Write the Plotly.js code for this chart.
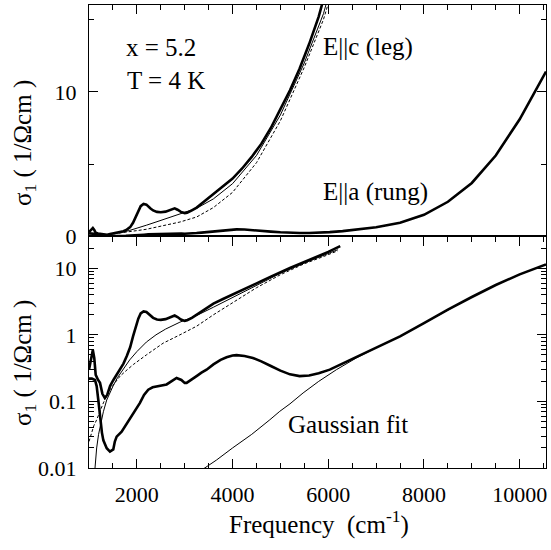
<!DOCTYPE html>
<html><head><meta charset="utf-8">
<script src="https://cdn.plot.ly/plotly-3.0.1.min.js"></script>
<style>html,body{margin:0;padding:0;background:#fff}#g{width:551px;height:550px}</style>
</head><body><div id="g"></div>
<script>
// E||c (leg) measured data
const fC = [1000,1040,1080,1110,1140,1190,1230,1280,1330,1380,1440,1510,1580,1650,1720,1790,1860,1920,1980,2030,2080,2140,2200,2280,2340,2420,2500,2600,2700,2790,2850,2920,3000,3050,3150,3250,3400,3600,3800,4000,4200,4400,4600,4800,5000,5200,5400,5600,5800,6000,6250];
const sC = [0.30,0.45,0.59,0.45,0.25,0.21,0.19,0.13,0.113,0.125,0.17,0.21,0.25,0.30,0.37,0.48,0.65,0.95,1.35,1.75,2.1,2.25,2.2,1.95,1.8,1.7,1.68,1.72,1.85,1.95,1.85,1.7,1.62,1.65,1.8,2.0,2.4,2.95,3.45,4.0,4.7,5.5,6.4,7.5,8.8,10.1,11.6,13.3,15.2,17.6,21.5];
// E||c fit (thin solid)
const fFit1 = [1100,1120,1160,1200,1250,1300,1370,1450,1510,1600,1720,1850,2000,2200,2400,2600,2900,3250,3600,4000,4500,5000,5500,5900,6200];
const sFit1 = [0.006,0.01,0.02,0.032,0.05,0.07,0.105,0.145,0.175,0.23,0.31,0.42,0.56,0.78,1.0,1.22,1.55,1.95,2.6,3.65,5.6,8.4,12.0,15.4,19];
// E||c fit (dashed)
const fFit2 = [1000,1050,1100,1160,1230,1300,1370,1440,1540,1650,1800,1930,2200,2550,2900,3250,3600,4000,4500,5000,5500,5900,6200];
const sFit2 = [0.025,0.033,0.043,0.053,0.072,0.095,0.12,0.15,0.19,0.24,0.30,0.36,0.50,0.75,1.0,1.35,2.0,3.05,5.1,8.0,11.7,15.0,18.3];
// E||a (rung) measured data
const fA = [1000,1060,1125,1160,1194,1220,1244,1270,1300,1370,1438,1470,1507,1540,1578,1682,1770,1856,1960,2065,2150,2238,2330,2413,2520,2622,2720,2830,2930,3000,3040,3140,3248,3350,3457,3600,3750,3875,4000,4083,4250,4424,4600,4800,5000,5200,5400,5600,5800,6031,6300,6658,7000,7500,8000,8500,9000,9500,10000,10550];
const sA = [0.22,0.22,0.21,0.17,0.106,0.07,0.047,0.034,0.026,0.0198,0.0176,0.018,0.019,0.025,0.0296,0.035,0.044,0.053,0.072,0.095,0.125,0.15,0.163,0.168,0.175,0.18,0.2,0.225,0.21,0.19,0.19,0.21,0.24,0.27,0.30,0.36,0.42,0.46,0.49,0.495,0.48,0.45,0.40,0.34,0.29,0.255,0.24,0.245,0.265,0.30,0.37,0.50,0.64,0.95,1.5,2.4,3.7,5.6,8.1,11.4];
// Gaussian fit
const fG = [3400,3666,4000,4400,4779,4987,5200,5474,5800,6171,6588,7000,7500,8000,8500,9000,9500,10000,10550];
const sG = [0.0098,0.0132,0.020,0.032,0.053,0.071,0.092,0.134,0.20,0.30,0.45,0.64,0.95,1.5,2.4,3.7,5.6,8.1,11.4];

const xTickVals = [2000,4000,6000,8000,10000];
const xTickText = ['2000','4000','6000','8000','10000'];
const yLogTickVals = [0.01,0.1,1,10];
const yLogTickText = ['0.01','0.1','1','10'];
const yLinTickVals = [0,10];
const yLinTickText = ['0','10'];

const FONT = 'Liberation Serif';
const thick = {color:'#000', width:2.6};
const thin = {color:'#000', width:1};
const dashed = {color:'#000', width:1, dash:'3px,2px'};

function tr(x,y,line,top){
  return {x:x, y:y, type:'scatter', mode:'lines', line:line, hoverinfo:'skip',
          xaxis: top ? 'x2':'x', yaxis: top ? 'y2':'y'};
}
const data = [
  tr(fG,sG,thin,false),
  tr(fFit2,sFit2,dashed,false),
  tr(fFit1,sFit1,thin,false),
  tr(fA,sA,thick,false),
  tr(fC,sC,thick,false),
  tr(fFit2,sFit2,dashed,true),
  tr(fFit1,sFit1,thin,true),
  tr(fA,sA,thick,true),
  tr(fC,sC,thick,true)
];

function ax(extra){
  const base = {showline:true, linecolor:'#000', linewidth:1.2, ticks:'inside',
    tickcolor:'#000', tickwidth:1, showgrid:false, zeroline:false,
    tickfont:{family:FONT, size:22, color:'#000'}};
  return Object.assign(base, extra);
}
function minor(dt){
  return {dtick:dt, ticks:'inside', ticklen:5, tickcolor:'#000', tickwidth:1, showgrid:false};
}

const layout = {
  width:551, height:550, margin:{l:89, r:5, t:5, b:82},
  paper_bgcolor:'#fff', plot_bgcolor:'#fff', showlegend:false,
  font:{family:FONT, size:22, color:'#000'},
  xaxis: ax({anchor:'y', range:[1000,10550], mirror:'ticks',
    tickmode:'array', tickvals:xTickVals, ticktext:xTickText, ticklen:9, ticklabelstandoff:6,
    minor:Object.assign(minor(500),{tick0:0})}),
  xaxis2: ax({anchor:'y2', matches:'x', side:'top', range:[1000,10550],
    showticklabels:false, tickmode:'array', tickvals:xTickVals, ticklen:9,
    minor:Object.assign(minor(500),{tick0:0})}),
  yaxis: ax({domain:[0,0.5], type:'log', range:[-2, Math.log10(30)],
    mirror:'ticks', tickmode:'array', tickvals:yLogTickVals, ticktext:yLogTickText, ticklen:9, ticklabelstandoff:7,
    minor:{tickmode:'linear', dtick:'D1', ticks:'inside', ticklen:5, tickcolor:'#000', tickwidth:1, showgrid:false}}),
  yaxis2: ax({domain:[0.5,1], range:[0,16], mirror:'ticks',
    tickmode:'array', tickvals:yLinTickVals, ticktext:yLinTickText, ticklen:9, ticklabelstandoff:7,
    minor:Object.assign(minor(5),{tick0:0})}),
  annotations: [
    {text:'x = 5.2', xref:'paper', yref:'paper', x:0.076, y:0.909, xanchor:'left', yanchor:'middle', showarrow:false, font:{family:FONT, size:25, color:'#000'}},
    {text:'T = 4 K', xref:'paper', yref:'paper', x:0.078, y:0.838, xanchor:'left', yanchor:'middle', showarrow:false, font:{family:FONT, size:25, color:'#000'}},
    {text:'E||c (leg)', xref:'paper', yref:'paper', x:0.508, y:0.909, xanchor:'left', yanchor:'middle', showarrow:false, font:{family:FONT, size:25, color:'#000'}},
    {text:'E||a (rung)', xref:'paper', yref:'paper', x:0.508, y:0.596, xanchor:'left', yanchor:'middle', showarrow:false, font:{family:FONT, size:25, color:'#000'}},
    {text:'Gaussian fit', xref:'paper', yref:'paper', x:0.432, y:0.093, xanchor:'left', yanchor:'middle', showarrow:false, font:{family:FONT, size:25, color:'#000'}},
    {text:'σ<sub>1</sub> ( 1/Ωcm )', xref:'paper', yref:'paper', x:-0.14, y:0.702, xanchor:'center', yanchor:'middle', textangle:-90, showarrow:false, font:{family:FONT, size:25, color:'#000'}},
    {text:'σ<sub>1</sub> ( 1/Ωcm )', xref:'paper', yref:'paper', x:-0.14, y:0.227, xanchor:'center', yanchor:'middle', textangle:-90, showarrow:false, font:{family:FONT, size:25, color:'#000'}},
    {text:'Frequency\u00a0\u00a0(cm<sup>-1</sup>)', xref:'paper', yref:'paper', x:0.503, y:-0.117, xanchor:'center', yanchor:'middle', showarrow:false, font:{family:FONT, size:25, color:'#000'}}
  ]
};
Plotly.newPlot('g', data, layout, {staticPlot:true, displayModeBar:false});
</script></body></html>
